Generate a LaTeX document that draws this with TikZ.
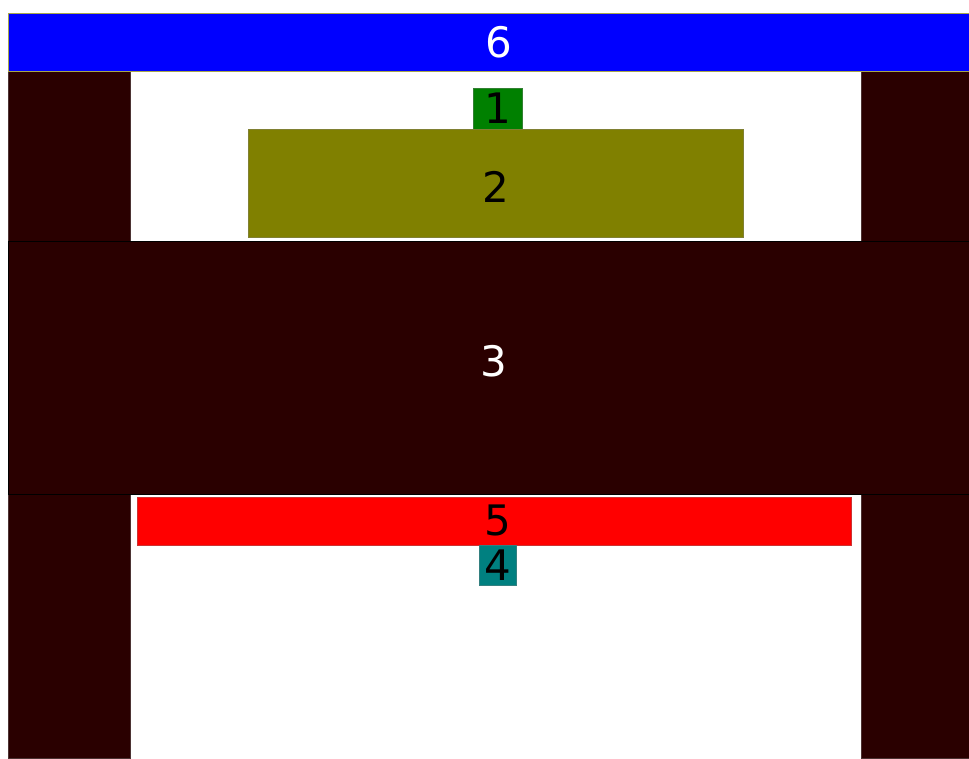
\documentclass[tikz,border=0pt]{standalone}
\usepackage{fontspec}
\setmainfont{DejaVu Sans}
\definecolor{darkbrown}{HTML}{2A0000}
\definecolor{olivebox}{HTML}{808000}
\definecolor{greenbox}{HTML}{008000}
\definecolor{tealbox}{HTML}{008080}
\begin{document}
\begin{tikzpicture}[x=1pt,y=-1pt,
  blk/.style={draw=#1!60!gray, line width=0.8pt, fill=#1, inner sep=0pt, outer sep=0pt, rectangle},
  dig/.style={font=\fontsize{42}{42}\selectfont, text=black},
  wdig/.style={font=\fontsize{42}{42}\selectfont, text=white}]
\useasboundingbox[fill=white] (0,0) rectangle (969,758);
% pillars
\node[blk=darkbrown, minimum width=122pt, minimum height=687pt] (lp) at (69,414.5) {};
\node[blk=darkbrown, minimum width=108pt, minimum height=687pt] (rp) at (915,414.5) {};
% top bar 6
\node[draw=olivebox!70!white, line width=0.8pt, fill=blue, inner sep=0pt, minimum width=961pt, minimum height=58pt,
  label={[wdig, xshift=10.5pt, yshift=-0.5pt]center:6}] (n6) at (488.5,42) {};
% box 3
\node[draw=black, line width=0.8pt, fill=darkbrown, inner sep=0pt, minimum width=961pt, minimum height=253pt,
  label={[wdig, xshift=5pt, yshift=6pt]center:3}] (n3) at (488.5,367.5) {};
% box 1
\node[blk=greenbox, minimum width=49pt, minimum height=41pt, dig] (n1) at (497.5,108.5) {1};
% box 2
\node[blk=olivebox, minimum width=495pt, minimum height=108pt, label={[dig, yshift=-3.5pt]center:2}] (n2) at (495.5,183) {};
% box 5
\node[blk=red, minimum width=714pt, minimum height=48pt, label={[dig, xshift=4pt, yshift=1pt]center:5}] (n5) at (494,521) {};
% box 4
\node[blk=tealbox, minimum width=37pt, minimum height=40pt, dig] (n4) at (497.5,565) {4};
\end{tikzpicture}
\end{document}
